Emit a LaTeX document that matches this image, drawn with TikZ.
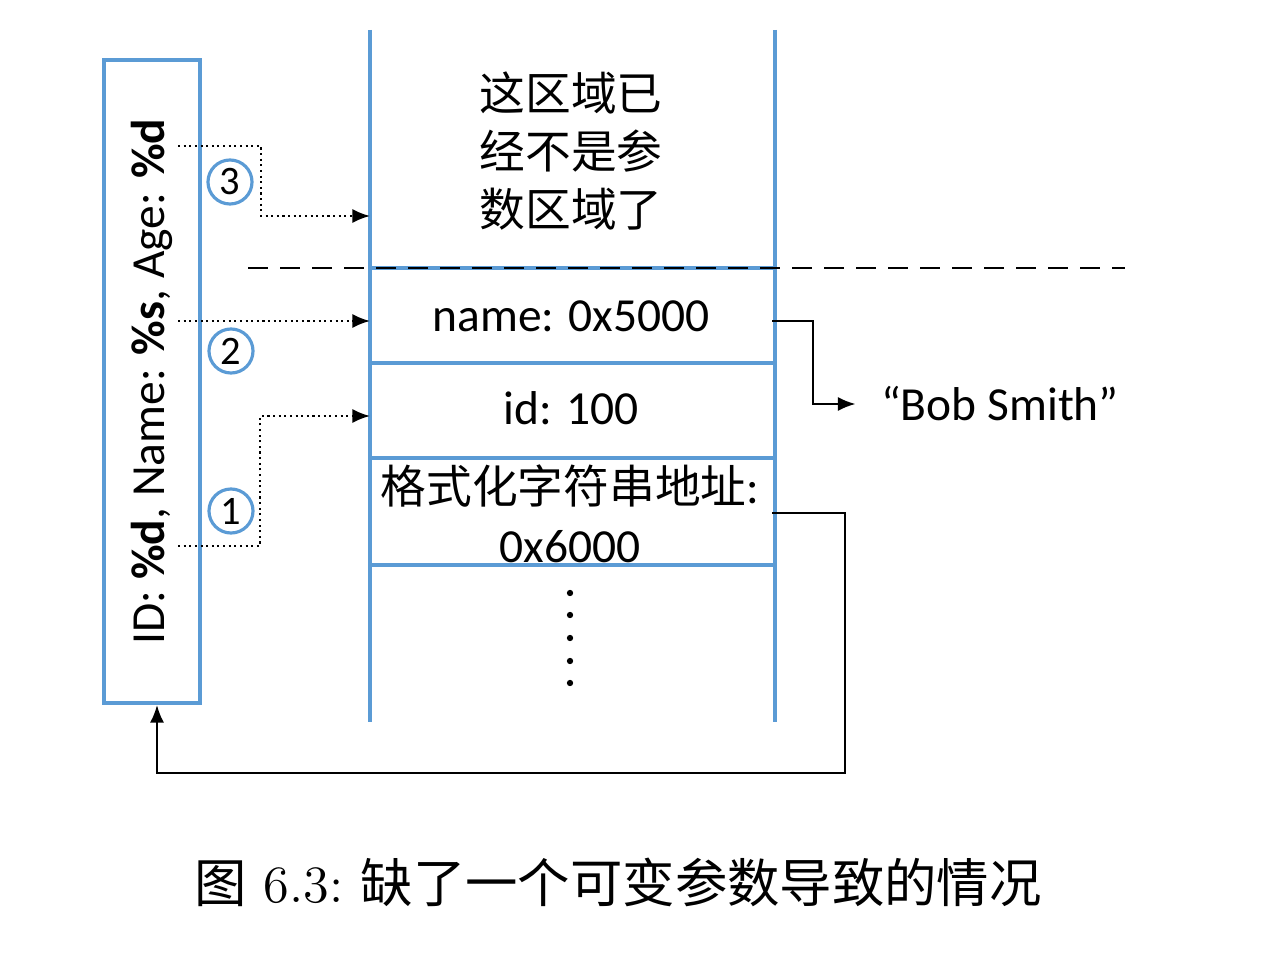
\documentclass[tikz,border=0pt]{standalone}
\usepackage{fontspec}
\newfontfamily\carlito{Carlito}
\newfontfamily\cjk{Noto Sans CJK SC}
\usetikzlibrary{arrows.meta}
\definecolor{stackblue}{RGB}{91,155,213}
\tikzset{
  wall/.style={stackblue, line width=1.1pt},
  ptr/.style={densely dotted, line width=0.6pt, -{Latex[length=5pt,width=4pt]}},
  link/.style={line width=0.5pt, -{Latex[length=5pt,width=4pt]}},
  num/.style={circle, draw=stackblue, line width=0.9pt, minimum size=0.44cm,
    inner sep=0pt, font=\carlito\fontsize{11.5}{12}\selectfont},
  cell/.style={font=\carlito\fontsize{13.5}{16}\selectfont, inner sep=0pt},
  hanzi/.style={font=\cjk\fontsize{13}{16.5}\selectfont, align=center, inner sep=0pt},
}
\begin{document}
\begin{tikzpicture}[x=0.01cm, y=-0.01cm]
  \useasboundingbox (0,0) rectangle (1266,973);
  % format string box
  \node[wall, draw, text=black, minimum width=0.96cm, minimum height=6.43cm, inner sep=0pt] (fmtbox) at (152,381.5)
    {\rotatebox{90}{\carlito\fontsize{13.5}{16}\selectfont ID: \textbf{\%d}, Name: \textbf{\%s}, Age: \textbf{\%d}}};
  % stack
  \draw[wall] (370,30) -- (370,722) (775,30) -- (775,722);
  \foreach \y in {268,363,458,565}
    \draw[wall] (370,\y) -- (775,\y);
  \draw[line width=0.7pt, dash pattern=on 5.7pt off 3.4pt] (248,268) -- (1125,268);
  \node[hanzi] (old) at (571,151) {这区域已\\经不是参\\数区域了};
  \node[cell] (nm) at (571,316) {name: 0x5000};
  \node[cell] (id) at (571,408) {id: 100};
  \node[hanzi, font=\carlito\fontsize{13.5}{16.8}\selectfont] (addr) at (570,514)
    {{\cjk\fontsize{13}{16}\selectfont 格式化字符串地址}:\\0x6000};
  \foreach \y in {593,615,638,661,683}
    \fill (570,\y) circle[radius=0.9pt];
  \node[cell] (bob) at (1000,404) {“Bob Smith”};
  % arguments read by the format string
  \coordinate (s1) at (178,546);
  \coordinate (s2) at (178,321);
  \coordinate (s3) at (178,146);
  \coordinate (t1) at (370,416);
  \coordinate (t2) at (370,321);
  \coordinate (t3) at (370,216);
  \draw[ptr] (s3) -- ++(83,0) |- (t3);
  \draw[ptr] (s2) -- (t2);
  \draw[ptr] (s1) -- ++(82,0) |- (t1);
  \node[num] (n3) at (230,182) {3};
  \node[num] (n2) at (231,351) {2};
  \node[num] (n1) at (231,511) {1};
  % pointers
  \coordinate (p5000) at (772,321);
  \coordinate (p6000) at (772,513);
  \draw[link] (p5000) -- ++(41,0) |- ([xshift=-0.25cm]bob.west);
  \draw[link] (p6000) -- ++(73,0) -- ++(0,260) -| ([xshift=0.05cm]fmtbox.south);
  \node[font=\fontsize{14.9}{17}\selectfont, inner sep=0pt] (caption) at (618,882)
    {{\cjk 图}\ 6.3:\ {\cjk 缺了一个可变参数导致的情况}};
\end{tikzpicture}
\end{document}
